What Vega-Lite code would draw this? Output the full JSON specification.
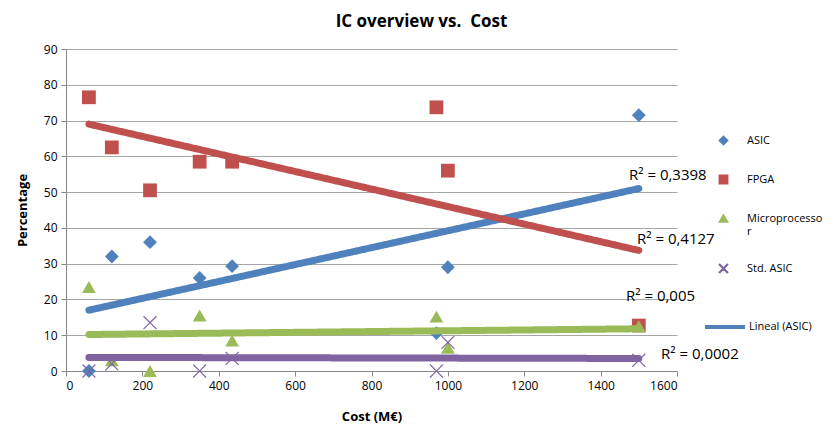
{
  "$schema": "https://vega.github.io/schema/vega-lite/v6.json",
  "autosize": "none",
  "width": 611,
  "height": 322,
  "padding": {"left": 66, "top": 49, "right": 157, "bottom": 74},
  "background": "white",
  "config": {
    "view": {"stroke": null},
    "axis": {
      "labelFont": "Open Sans",
      "labelFontSize": 12,
      "labelColor": "#000000",
      "titleFont": "Open Sans",
      "titleFontSize": 13,
      "titleFontWeight": "bold",
      "titleColor": "#000000",
      "domainColor": "#868686",
      "tickColor": "#868686",
      "gridColor": "#a6a6a6",
      "tickSize": 5
    },
    "legend": {"labelFont": "Open Sans", "labelFontSize": 11, "labelColor": "#000000"}
  },
  "title": {
    "text": "IC overview vs.\u00a0 Cost",
    "font": "Open Sans",
    "fontSize": 17,
    "fontWeight": "bold",
    "color": "#000000",
    "anchor": "middle",
    "dx": 50,
    "offset": 12
  },
  "datasets": {
    "points": [
      {"type": "ASIC", "cost": 60, "pct": 0},
      {"type": "ASIC", "cost": 120, "pct": 32},
      {"type": "ASIC", "cost": 220, "pct": 36},
      {"type": "ASIC", "cost": 350, "pct": 26},
      {"type": "ASIC", "cost": 435, "pct": 29.3},
      {"type": "ASIC", "cost": 970, "pct": 10.6},
      {"type": "ASIC", "cost": 1000, "pct": 29},
      {"type": "ASIC", "cost": 1500, "pct": 71.5},
      {"type": "FPGA", "cost": 60, "pct": 76.5},
      {"type": "FPGA", "cost": 120, "pct": 62.5},
      {"type": "FPGA", "cost": 220, "pct": 50.5},
      {"type": "FPGA", "cost": 350, "pct": 58.5},
      {"type": "FPGA", "cost": 435, "pct": 58.5},
      {"type": "FPGA", "cost": 970, "pct": 73.7},
      {"type": "FPGA", "cost": 1000, "pct": 56},
      {"type": "FPGA", "cost": 1500, "pct": 12.7},
      {"type": "Microprocessor", "cost": 60, "pct": 23.5},
      {"type": "Microprocessor", "cost": 120, "pct": 3},
      {"type": "Microprocessor", "cost": 220, "pct": 0},
      {"type": "Microprocessor", "cost": 350, "pct": 15.5},
      {"type": "Microprocessor", "cost": 435, "pct": 8.5},
      {"type": "Microprocessor", "cost": 970, "pct": 15.2},
      {"type": "Microprocessor", "cost": 1000, "pct": 6.5},
      {"type": "Microprocessor", "cost": 1500, "pct": 12.5},
      {"type": "Std. ASIC", "cost": 60, "pct": 0},
      {"type": "Std. ASIC", "cost": 120, "pct": 2},
      {"type": "Std. ASIC", "cost": 220, "pct": 13.5},
      {"type": "Std. ASIC", "cost": 350, "pct": 0},
      {"type": "Std. ASIC", "cost": 435, "pct": 3.5},
      {"type": "Std. ASIC", "cost": 970, "pct": 0},
      {"type": "Std. ASIC", "cost": 1000, "pct": 8},
      {"type": "Std. ASIC", "cost": 1500, "pct": 3}
    ],
    "trends": [
      {"type": "ASIC", "series": "Lineal (ASIC)", "cost": 60, "pct": 17},
      {"type": "ASIC", "series": "Lineal (ASIC)", "cost": 1500, "pct": 51},
      {"type": "FPGA", "series": "Lineal (FPGA)", "cost": 60, "pct": 69},
      {"type": "FPGA", "series": "Lineal (FPGA)", "cost": 1500, "pct": 33.7},
      {"type": "Microprocessor", "series": "Lineal (Microprocessor)", "cost": 60, "pct": 10.2},
      {"type": "Microprocessor", "series": "Lineal (Microprocessor)", "cost": 1500, "pct": 11.8},
      {"type": "Std. ASIC", "series": "Lineal (Std. ASIC)", "cost": 60, "pct": 3.8},
      {"type": "Std. ASIC", "series": "Lineal (Std. ASIC)", "cost": 1500, "pct": 3.5}
    ],
    "labels": [
      {"text": "R² = 0,3398", "cost": 1576, "pct": 54.7},
      {"text": "R² = 0,4127", "cost": 1597, "pct": 36.9},
      {"text": "R² = 0,005", "cost": 1557, "pct": 21},
      {"text": "R² = 0,0002", "cost": 1660, "pct": 4.7}
    ]
  },
  "encoding": {
    "x": {
      "field": "cost", "type": "quantitative",
      "scale": {"domain": [0, 1600], "nice": false},
      "axis": {"values": [0, 200, 400, 600, 800, 1000, 1200, 1400, 1600], "format": "d", "grid": false, "title": "Cost (M€)", "titlePadding": 19, "labelPadding": 4}
    },
    "y": {
      "field": "pct", "type": "quantitative",
      "scale": {"domain": [0, 90], "nice": false},
      "axis": {"values": [0, 10, 20, 30, 40, 50, 60, 70, 80, 90], "labelOverlap": false, "grid": true, "title": "Percentage", "titlePadding": 14, "labelPadding": 4}
    }
  },
  "layer": [
    {
      "data": {"name": "points"},
      "mark": {"type": "point", "filled": true, "opacity": 1, "size": 190},
      "encoding": {
        "color": {
          "field": "type", "type": "nominal",
          "scale": {"domain": ["ASIC", "FPGA", "Microprocessor", "Std. ASIC"], "range": ["#4f81bd", "#c0504d", "#9bbb59", "#8064a2"]},
          "legend": {
            "title": null, "orient": "none", "legendX": 652, "legendY": 86,
            "rowPadding": 24, "symbolSize": 70, "labelOffset": 18, "padding": 0,
            "labelExpr": "datum.label == 'Microprocessor' ? ['Microprocesso', 'r'] : datum.label"
          }
        },
        "shape": {
          "field": "type", "type": "nominal",
          "scale": {"domain": ["ASIC", "FPGA", "Microprocessor", "Std. ASIC"], "range": ["diamond", "square", "triangle-up", "M-1,-0.88L-0.88,-1L0,-0.12L0.88,-1L1,-0.88L0.12,0L1,0.88L0.88,1L0,0.12L-0.88,1L-1,0.88L-0.12,0Z"]},
          "legend": {
            "title": null, "orient": "none", "legendX": 652, "legendY": 86,
            "rowPadding": 24, "symbolSize": 70, "labelOffset": 18, "padding": 0,
            "labelExpr": "datum.label == 'Microprocessor' ? ['Microprocesso', 'r'] : datum.label"
          }
        }
      }
    },
    {
      "data": {"name": "trends"},
      "mark": {"type": "line", "strokeWidth": 7, "strokeCap": "round"},
      "encoding": {
        "color": {"field": "type", "type": "nominal"},
        "detail": {"field": "series"},
        "strokeDash": {
          "field": "series", "type": "nominal",
          "scale": {"domain": ["Lineal (ASIC)", "Lineal (FPGA)", "Lineal (Microprocessor)", "Lineal (Std. ASIC)"], "range": [[1, 0], [1, 0], [1, 0], [1, 0]]},
          "legend": {
            "title": null, "orient": "none", "legendX": 637, "legendY": 256,
            "values": ["Lineal (ASIC)"], "symbolType": "stroke", "symbolSize": 1600,
            "symbolStrokeWidth": 4, "symbolStrokeColor": "#4f81bd", "labelOffset": 2, "padding": 0
          }
        }
      }
    },
    {
      "data": {"name": "labels"},
      "mark": {"type": "text", "font": "Open Sans", "fontSize": 15, "color": "#000000"},
      "encoding": {
        "text": {"field": "text", "type": "nominal"}
      }
    }
  ]
}
